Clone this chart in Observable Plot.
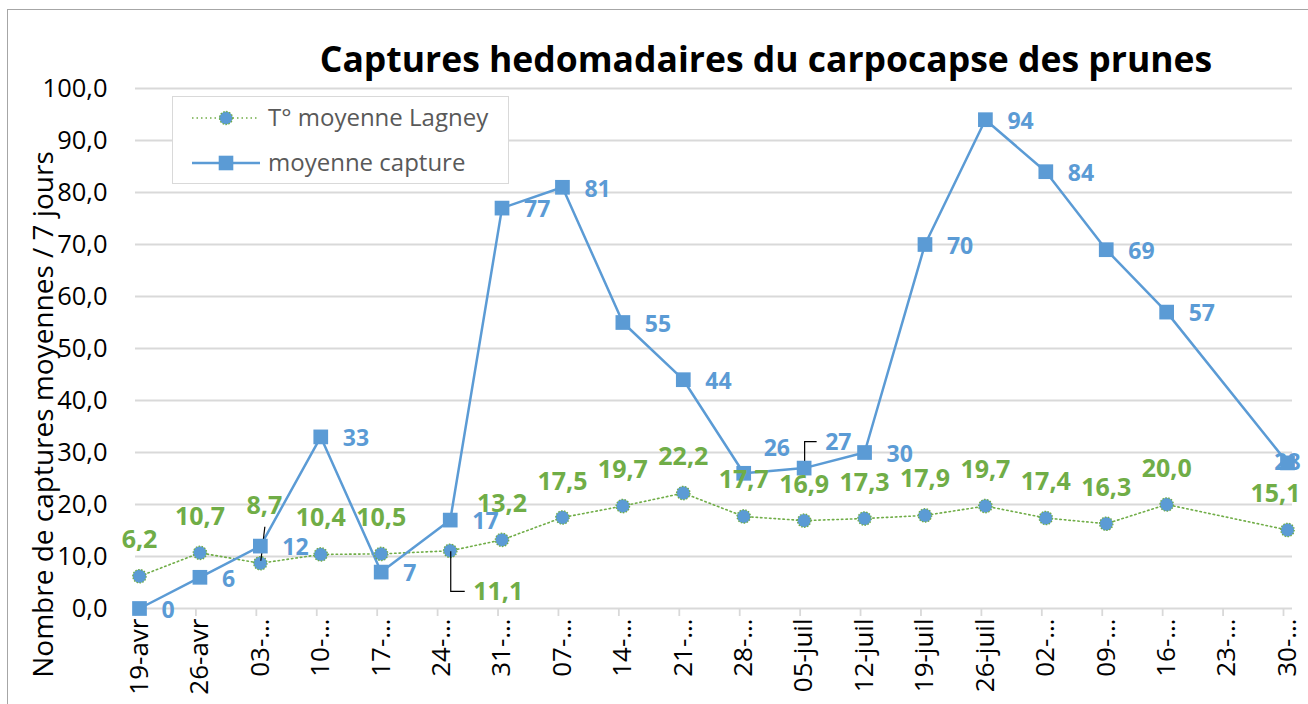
<!DOCTYPE html>
<html><head><meta charset="utf-8">
<script src="https://cdn.jsdelivr.net/npm/d3@7"></script>
<script src="https://cdn.jsdelivr.net/npm/@observablehq/plot@0.6"></script>
<style>
body{margin:0;background:#fff;font-family:"Open Sans",sans-serif;}
#wrap{position:relative;width:1308px;height:704px;overflow:hidden;background:#fff;}
#border{position:absolute;left:7px;top:9px;width:1400px;height:800px;border:1.5px solid #a6a6a6;box-sizing:border-box;}
#chart{position:absolute;left:0;top:0;}
#title{position:absolute;left:0;width:1532px;top:41px;text-align:center;font:700 35.5px/35.5px "Open Sans",sans-serif;color:#000;white-space:nowrap;}
#legend{position:absolute;left:172px;top:96px;width:337px;height:88px;border:1.5px solid #d9d9d9;box-sizing:border-box;background:#fff;}
</style></head><body>
<div id="wrap">
<div id="border"></div>
<div id="chart"></div>
<div id="title">Captures hedomadaires du carpocapse des prunes</div>
<div id="legend"></div>
</div>
<script>
// ---- data ----
const YEAR = "2021";
const weekDates = ["04-19","04-26","05-03","05-10","05-17","05-24","05-31","06-07","06-14","06-21","06-28","07-05","07-12","07-19","07-26","08-02","08-09","08-16","08-23","08-30"];
const weekLabels = ["19-avr","26-avr","03-\u2026","10-\u2026","17-\u2026","24-\u2026","31-\u2026","07-\u2026","14-\u2026","21-\u2026","28-\u2026","05-juil","12-juil","19-juil","26-juil","02-\u2026","09-\u2026","16-\u2026","23-\u2026","30-\u2026"];
const obsDates = ["04-19","04-26","05-03","05-10","05-17","05-25","05-31","06-07","06-14","06-21","06-28","07-05","07-12","07-19","07-26","08-02","08-09","08-16","08-30"];
const temperature = [6.2,10.7,8.7,10.4,10.5,11.1,13.2,17.5,19.7,22.2,17.7,16.9,17.3,17.9,19.7,17.4,16.3,20.0,15.1];
const captures = [0,6,12,33,7,17,77,81,55,44,26,27,30,70,94,84,69,57,28];
const yTicks = [0,10,20,30,40,50,60,70,80,90,100];
const tempName = "T\u00b0 moyenne Lagney";
const capName = "moyenne capture";
const yTitle = "Nombre de captures moyennes / 7 jours";

// ---- styles ----
const BLUE = "#5B9BD5", GREEN = "#70AD47", GRID = "#d9d9d9";
const parse = d3.utcParse("%Y-%m-%d");
const rows = obsDates.map((d, i) => ({key: d, date: parse(YEAR + "-" + d), temp: temperature[i], cap: captures[i]}));
const ticks = weekDates.map(d => parse(YEAR + "-" + d));
const labelOf = new Map(ticks.map((t, i) => [+t, weekLabels[i]]));
const fr = v => v.toFixed(1).replace(".", ",");

// label placement nudges (layout only)
const capNudge = {"06-28": {dx: 20, dy: -25, anchor: "start"}, "07-05": {dx: 21, dy: -25, anchor: "start"}, "08-30": {dx: 0, dy: 0, anchor: "middle"}};
const tempNudge = {"05-03": {dx: 4, dy: -57, anchor: "middle"}, "05-25": {dx: 23, dy: 41, anchor: "start"}, "08-30": {dx: -12, dy: -36, anchor: "middle"}};
const leaders = [
  {key: "05-03", field: "temp", pts: [[1, -2], [5, -36]]},
  {key: "05-25", field: "temp", pts: [[1, 1], [1, 41], [15, 41]]},
  {key: "07-05", field: "cap", pts: [[1, -2], [1, -26], [13, -26]]}
];

function labelMarks(field, nudge, def, fmt, opts) {
  const marks = [];
  marks.push(Plot.text(rows.filter(r => !nudge[r.key]), {x: "date", y: field, text: d => fmt(d[field]), dx: def.dx, dy: def.dy, textAnchor: def.anchor, ...opts}));
  for (const k of Object.keys(nudge)) {
    const n = nudge[k];
    marks.push(Plot.text(rows.filter(r => r.key === k), {x: "date", y: field, text: d => fmt(d[field]), dx: n.dx, dy: n.dy, textAnchor: n.anchor, ...opts}));
  }
  return marks;
}

function leaderMark(index, scales) {
  const g = d3.create("svg:g").attr("fill", "none").attr("stroke", "#000").attr("stroke-width", 1.2);
  for (const L of leaders) {
    const r = rows.find(d => d.key === L.key);
    const x = scales.x(r.date), y = scales.y(r[L.field]);
    g.append("path").attr("d", "M" + L.pts.map(p => (x + p[0]) + "," + (y + p[1])).join("L"));
  }
  return g.node();
}

const plot = Plot.plot({
  width: 1308, height: 704,
  marginLeft: 135, marginRight: 16, marginTop: 88, marginBottom: 96,
  style: {fontFamily: "Open Sans, sans-serif", fontSize: "24px", color: "#000", background: "transparent", overflow: "visible"},
  x: {type: "utc", domain: [ticks[0], ticks[ticks.length - 1]], insetLeft: 4, insetRight: 5},
  y: {domain: [0, 100]},
  marks: [
    Plot.ruleY(yTicks, {stroke: GRID, strokeWidth: 1.8}),
    Plot.axisY({ticks: yTicks, tickFormat: fr, tickSize: 0, tickPadding: 28, fontSize: 25.5, fill: "#000", label: null}),
    Plot.axisX({ticks, tickFormat: () => "", tickSize: 8, stroke: GRID, strokeWidth: 1.8, dx: -4, label: null}),
    Plot.axisX({ticks, tickFormat: d => labelOf.get(+d), tickSize: 0, tickPadding: 10, tickRotate: -90, fontSize: 26, fill: "#000", label: null}),
    Plot.text([yTitle], {frameAnchor: "left", rotate: -90, textAnchor: "middle", dx: -91, dy: 66, fontSize: 28, fill: "#000"}),
    Plot.line(rows, {x: "date", y: "temp", stroke: GREEN, strokeWidth: 1.6, strokeDasharray: "1.5,3"}),
    Plot.line(rows, {x: "date", y: "cap", stroke: BLUE, strokeWidth: 2.5}),
    Plot.dot(rows, {x: "date", y: "temp", r: 6.7, fill: BLUE, stroke: GREEN, strokeWidth: 1.3, strokeDasharray: "1.5,1.5"}),
    leaderMark,
    ...labelMarks("cap", capNudge, {dx: 22, dy: 2, anchor: "start"}, v => String(v), {fill: BLUE, fontSize: 23, fontWeight: 700}),
    Plot.dot(rows, {x: "date", y: "cap", symbol: "square", r: 8.3, fill: BLUE}),
    ...labelMarks("temp", tempNudge, {dx: 0, dy: -36, anchor: "middle"}, fr, {fill: GREEN, fontSize: 25, fontWeight: 700})
  ]
});
document.getElementById("chart").appendChild(plot);

// legend
const lg = d3.select("#legend").append("svg").attr("width", 334).attr("height", 85).style("display", "block");
const e1 = 21, e2 = 66;
lg.append("line").attr("x1", 19).attr("x2", 85).attr("y1", e1).attr("y2", e1).attr("stroke", GREEN).attr("stroke-width", 1.6).attr("stroke-dasharray", "1.5,3");
lg.append("circle").attr("cx", 53).attr("cy", e1).attr("r", 6.5).attr("fill", BLUE).attr("stroke", GREEN).attr("stroke-width", 1.3).attr("stroke-dasharray", "1.5,1.5");
lg.append("text").attr("x", 95).attr("y", e1 + 8).attr("font-size", 24).attr("font-family", "Open Sans").attr("fill", "#595959").text(tempName);
lg.append("line").attr("x1", 19).attr("x2", 87).attr("y1", e2).attr("y2", e2).attr("stroke", BLUE).attr("stroke-width", 2.5);
lg.append("rect").attr("x", 53 - 7.3).attr("y", e2 - 7.3).attr("width", 14.6).attr("height", 14.6).attr("fill", BLUE);
lg.append("text").attr("x", 95).attr("y", e2 + 8).attr("font-size", 24).attr("font-family", "Open Sans").attr("fill", "#595959").text(capName);
</script>
</body></html>
